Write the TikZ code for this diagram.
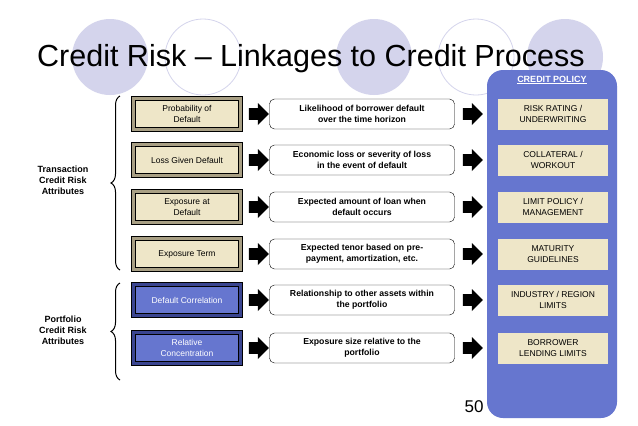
\documentclass[tikz,border=0pt]{standalone}
\usepackage{fontspec}
\setmainfont{Liberation Sans}
\usetikzlibrary{shapes.arrows,decorations.pathreplacing}
\definecolor{lav}{HTML}{D4D4EC}
\definecolor{tan}{HTML}{EEE6C8}
\definecolor{tand}{HTML}{A89F84}
\definecolor{bl}{HTML}{6676CF}
\definecolor{bld}{HTML}{3A4590}
\begin{document}
\begin{tikzpicture}[x=1pt,y=-1pt,
 lbox/.style={draw=black,line width=0.6pt,minimum width=107pt,minimum height=31pt,font=\fontsize{8.5}{11}\selectfont,align=center,inner sep=0pt},
 tanbox/.style={lbox,fill=tan,double=tand,double distance=3pt},
 bluebox/.style={lbox,fill=bl,text=white,double=bld,double distance=3pt},
 mid/.style={draw,rounded corners=5pt,fill=white,minimum width=185pt,minimum height=30pt,font=\bfseries\fontsize{8.7}{11}\selectfont,align=center,inner sep=0pt},
 pol/.style={fill=tan,minimum width=110pt,minimum height=31pt,font=\fontsize{8.5}{11}\selectfont,align=center,inner sep=0pt},
 arr/.style={single arrow,fill=black,minimum height=20pt,minimum width=22pt,single arrow head extend=2pt,inner sep=2pt},
 side/.style={font=\bfseries\fontsize{9}{11}\selectfont,align=center}]
\useasboundingbox (0,0) rectangle (638,426);
\fill[white] (0,0) rectangle (638,426);
\foreach \x/\f in {110/1,203/0,374/1,476/0,565/1}{
 \ifnum\f=1 \fill[lav] (\x,57) circle (38);\else\draw[lav,line width=0.8pt] (\x,57) circle (38);\fi}
\node[anchor=base west,font=\fontsize{30.5}{33}\selectfont,inner sep=0pt] (t) at (37,66) {Credit Risk – Linkages to Credit Process};
\fill[bl,rounded corners=16pt] (487,70) rectangle (617,418);
\node[font=\bfseries\fontsize{9}{10}\selectfont,text=white] (cp) at (552,80) {\underline{CREDIT POLICY}};
\foreach \n/\y/\t/\m/\p/\s in {
 a/114/{Probability of\\Default}/{Likelihood of borrower default\\over the time horizon}/{RISK RATING /\\UNDERWRITING}/tanbox,
 b/160/{Loss Given Default}/{Economic loss or severity of loss\\in the event of default}/{COLLATERAL /\\WORKOUT}/tanbox,
 c/207/{Exposure at\\Default}/{Expected amount of loan when\\default occurs}/{LIMIT POLICY /\\MANAGEMENT}/tanbox,
 d/254/{Exposure Term}/{Expected tenor based on pre-\\payment, amortization, etc.}/{MATURITY\\GUIDELINES}/tanbox,
 e/300/{Default Correlation}/{Relationship to other assets within\\the portfolio}/{INDUSTRY / REGION\\LIMITS}/bluebox,
 f/348/{Relative\\Concentration}/{Exposure size relative to the\\portfolio}/{BORROWER\\LENDING LIMITS}/bluebox}{
 \node[\s] (\n1) at (187,\y) {\t};
 \node[mid] (\n2) at (362,\y) {\m};
 \node[arr] (\n3) at (256,\y) {};
 \node[arr] (\n4) at (470,\y) {};
 \node[pol] (\n5) at (553,\y) {\p};
}
\node[side] (tl) at (63,180) {Transaction\\Credit Risk\\Attributes};
\node[side] (pl) at (63,330) {Portfolio\\Credit Risk\\Attributes};
\coordinate (b1) at (120,96); \coordinate (b2) at (120,270);
\coordinate (b3) at (120,283); \coordinate (b4) at (120,380);
\draw[line width=1pt,decorate,decoration={brace,amplitude=9pt}] (b2) -- (b1);
\draw[line width=1pt,decorate,decoration={brace,amplitude=9pt}] (b4) -- (b3);
\node[font=\fontsize{17}{18}\selectfont] (pg) at (474,407) {50};
\end{tikzpicture}
\end{document}
